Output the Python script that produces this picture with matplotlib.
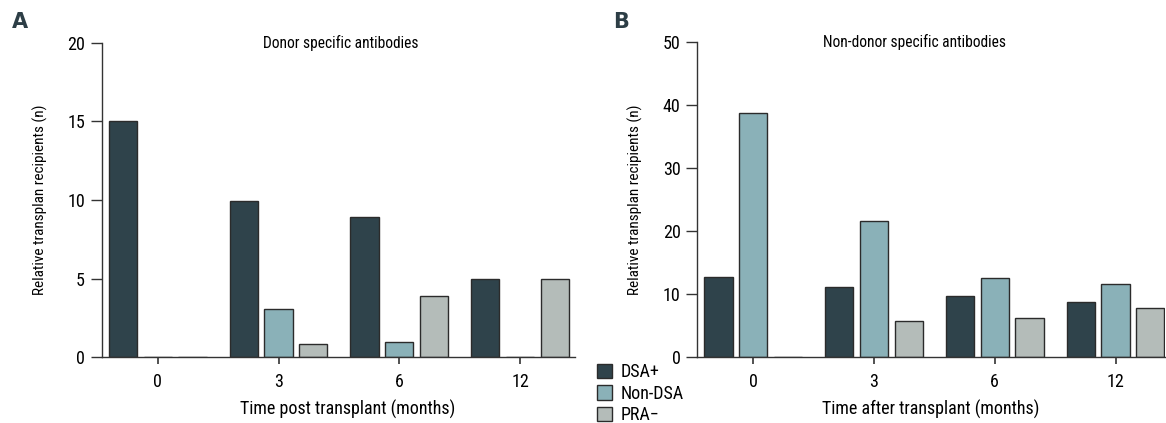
import numpy as np
import matplotlib
matplotlib.use("Agg")
from matplotlib import pyplot as plt
from matplotlib import font_manager as fm
from matplotlib.patches import Patch

# pick a narrow sans if one is around
names = {f.name for f in fm.fontManager.ttflist}
stretch = 'normal'
if 'Liberation Sans Narrow' in names:
    fam = 'Liberation Sans Narrow'
elif 'Roboto Condensed' in names:
    fam = 'Roboto Condensed'
else:
    fam = 'DejaVu Sans'
    if any(f.name == 'DejaVu Sans' and f.stretch == 'condensed' for f in fm.fontManager.ttflist):
        stretch = 'condensed'
plt.rcParams['font.family'] = [fam, 'DejaVu Sans']
plt.rcParams['font.stretch'] = stretch
plt.rcParams['font.size'] = 13

# data
months = ['0', '3', '6', '12']
series = ['DSA+', 'Non-DSA', 'PRA\u2212']

dsa_a = [15, 9.95, 8.9, 5]
nondsa_a = [0, 3.05, 0.95, 0]
pra_a = [0, 0.85, 3.9, 4.95]

dsa_b = [12.8, 11.1, 9.8, 8.8]
nondsa_b = [38.7, 21.7, 12.6, 11.7]
pra_b = [0, 5.8, 6.3, 7.9]

colors = ['#2f434b', '#8ab1b8', '#b4bcb9']
edge = '#2b2b2b'
axcol = '#333333'

W, H = 1166, 423
fig = plt.figure(figsize=(W / 100, H / 100), dpi=100)


def px_axes(left, right, top, bottom):
    return fig.add_axes([left / W, 1 - bottom / H, (right - left) / W, (bottom - top) / H])


def panel(ax, vals, ymax, step, xmax, title, title_x, xlabel, xlabel_x):
    x = np.arange(len(months))
    width = 0.234
    off = 0.288
    for i, v in enumerate(vals):
        ax.bar(x + (i - 1) * off, v, width, color=colors[i], edgecolor=edge, linewidth=1.0)
    ax.set_xlim(-0.464, xmax)
    ax.set_ylim(0, ymax)
    ax.set_xticks(x)
    ax.set_xticklabels(months)
    ax.set_yticks(np.arange(0, ymax + 1, step))
    for s in ['top', 'right']:
        ax.spines[s].set_visible(False)
    for s in ['left', 'bottom']:
        ax.spines[s].set_color(axcol)
        ax.spines[s].set_linewidth(1.0)
    ax.tick_params(axis='y', length=8, width=1, color=axcol, pad=4)
    ax.tick_params(axis='x', length=5, width=1.2, color=axcol, pad=6)
    ax.set_xlabel(xlabel, labelpad=6)
    ax.xaxis.set_label_coords(xlabel_x, -0.135)
    ax.set_ylabel('Relative transplan recipients (n)', fontsize=11, labelpad=14)
    ax.text(title_x, 1.0, title, transform=ax.transAxes, ha='center', va='center', fontsize=11.2)


axA = px_axes(101.7, 575, 42.7, 357.3)
panel(axA, [dsa_a, nondsa_a, pra_a], 20, 5, 3.455, 'Donor specific antibodies', 0.506,
      'Time post transplant (months)', 0.52)

axB = px_axes(697.3, 1165, 42.3, 357.3)
panel(axB, [dsa_b, nondsa_b, pra_b], 50, 10, 3.41, 'Non-donor specific antibodies', 0.464,
      'Time after transplant (months)', 0.5)

fig.text(12 / W, 1 - 22 / H, 'A', fontsize=15, fontweight='bold', color='#2d3e46',
         family='DejaVu Sans', stretch='normal', va='center', ha='left')
fig.text(613 / W, 1 - 22 / H, 'B', fontsize=15, fontweight='bold', color='#2d3e46',
         family='DejaVu Sans', stretch='normal', va='center', ha='left')

handles = [Patch(facecolor=c, edgecolor=edge, linewidth=1.0) for c in colors]
fig.legend(handles, series, loc='upper left', bbox_to_anchor=(597 / W, 1 - 363 / H),
           frameon=False, handlelength=0.85, handleheight=0.85, handletextpad=0.45,
           labelspacing=0.2, borderpad=0, borderaxespad=0)

fig.savefig('out.png', dpi=100)
